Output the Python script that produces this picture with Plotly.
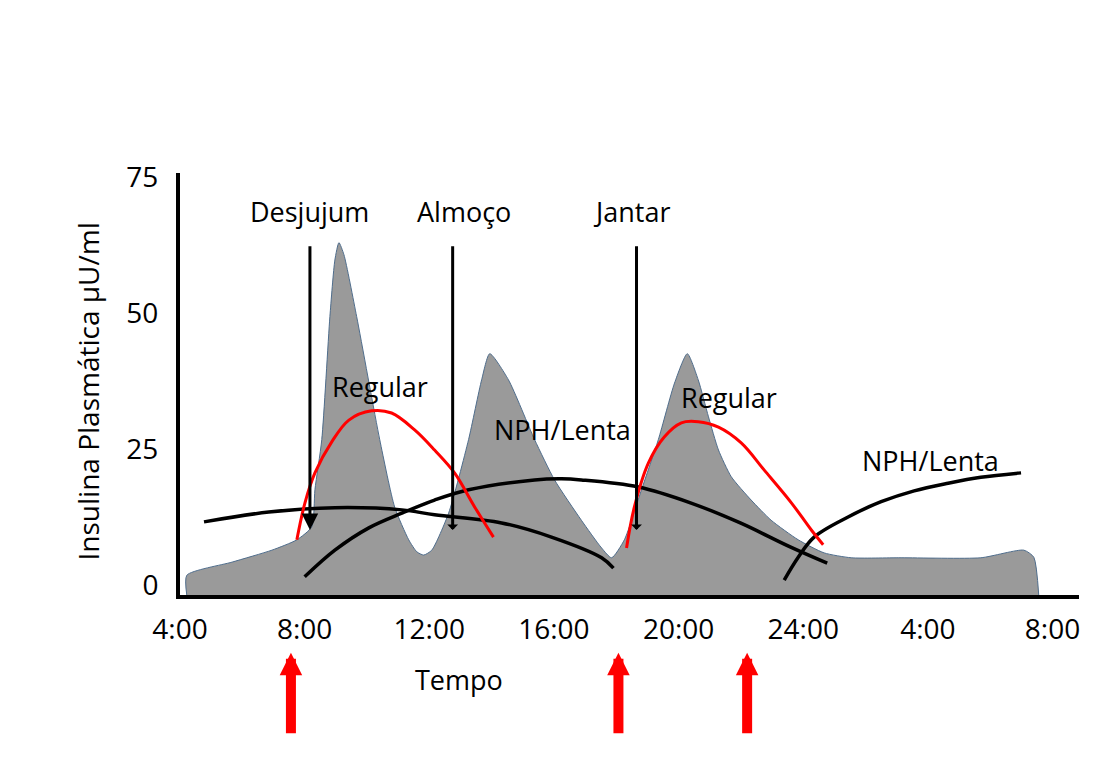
import plotly.graph_objects as go

# ---------------- data ----------------
# plasma insulin (physiological profile), hours since midnight (continuing past 24)
area_hours = [4.22, 4.22, 5.67, 6.95, 7.75, 8.23, 8.33, 8.55, 8.81, 8.97, 9.1, 9.26, 9.67,
              10.41, 10.89, 11.34, 11.6, 11.82, 12.08, 12.62, 13.26, 13.68, 13.94,
              14.54, 15.38, 16.02, 16.88, 17.53, 17.85, 18.26, 18.81, 19.35,
              19.87, 20.28, 20.63, 20.96, 21.28, 21.69, 22.33, 22.97, 23.84, 24.67, 25.54,
              27.14, 29.7, 31.08, 31.4, 31.56]
area_values = [-2.0, 1.8, 4.2, 6.4, 8.3, 10.7, 17.5, 26.7, 49.3, 59.7, 62.9, 60.7, 49.3,
               26.7, 14.3, 8.3, 6.1, 5.5, 6.4, 13.2, 26.7, 37.7, 42.5,
               37.7, 26.7, 19.3, 11.9, 6.8, 5.0, 8.3, 17.5, 26.7,
               37.1, 42.5, 37.7, 30.9, 24.8, 19.9, 15.6, 11.9, 8.3, 5.9, 5.0,
               5.0, 5.0, 6.4, 5.1, -2.0]

# Regular insulin curves
regular1_hours = [7.75, 8.01, 8.33, 8.87, 9.42, 10.15, 10.79, 11.53, 12.17, 12.81, 13.46, 14.06]
regular1_values = [8.3, 15.1, 20.6, 26.3, 30.3, 32.0, 31.6, 28.5, 24.8, 20.6, 14.3, 8.8]
regular2_hours = [18.33, 18.58, 19.03, 19.54, 20.09, 20.63, 21.28, 22.01, 22.75, 23.62, 24.26, 24.64]
regular2_values = [6.8, 14.3, 22.4, 27.2, 29.8, 30.0, 29.0, 26.1, 21.1, 15.1, 10.1, 7.4]

# NPH/Lenta curves
nph_a_hours = [4.77, 6.85, 8.97, 11.12, 12.17, 14.32, 15.92, 17.53, 17.91]
nph_a_values = [11.6, 13.4, 14.2, 13.8, 12.9, 11.4, 8.8, 5.0, 3.1]
nph_b_hours = [8.0, 8.97, 10.06, 11.12, 12.17, 13.26, 15.38, 16.24, 16.88, 18.71, 20.38, 21.98, 23.58, 24.77]
nph_b_values = [1.5, 6.4, 10.5, 13.2, 15.6, 17.5, 19.3, 19.5, 19.3, 18.0, 15.1, 11.4, 7.0, 4.0]
nph_c_hours = [23.39, 23.84, 24.35, 25.44, 26.5, 27.56, 28.65, 29.7, 30.99]
nph_c_values = [0.9, 5.1, 8.8, 12.5, 15.3, 17.3, 18.7, 19.8, 20.6]

# meals
meal_labels = ["Desjujum", "Almoço", "Jantar"]
meal_hours = [8.17, 12.75, 18.65]
meal_label_hours = [8.17, 13.1, 18.49]
meal_top = 62.5
meal_bottom = 10.1
meal_label_level = 68.7

# injection times (red arrows below the axis)
injection_hours = [7.56, 18.07, 22.2]

# curve labels
curve_labels = ["Regular", "Regular", "NPH/Lenta", "NPH/Lenta"]
curve_label_hours = [10.41, 21.63, 16.28, 28.1]
curve_label_values = [36.4, 34.4, 28.5, 22.8]

# axes
tick_hours = [4, 8, 12, 16, 20, 24, 28, 32]
tick_labels = ["4:00", "8:00", "12:00", "16:00", "20:00", "24:00", "4:00", "8:00"]
y_ticks = [0, 25, 50, 75]
X_RANGE = [4.0, 32.85]
Y_RANGE = [-1.84, 75.7]

FONT = "Open Sans"
FS = 28
FS_LAB = 27

fig = go.Figure()

fig.add_trace(go.Scatter(
    x=area_hours, y=area_values, mode="lines", fill="toself",
    fillcolor="#9a9a9a", line=dict(color="#4f6d8c", width=1, shape="spline", smoothing=0.6),
    hoverinfo="skip", showlegend=False))

for hx, vy in [(nph_a_hours, nph_a_values), (nph_b_hours, nph_b_values),
               (nph_c_hours, nph_c_values)]:
    fig.add_trace(go.Scatter(x=hx, y=vy, mode="lines",
                             line=dict(color="black", width=3.5, shape="spline"),
                             showlegend=False, hoverinfo="skip"))

for hx, vy in [(regular1_hours, regular1_values), (regular2_hours, regular2_values)]:
    fig.add_trace(go.Scatter(x=hx, y=vy, mode="lines",
                             line=dict(color="#ff0000", width=3, shape="spline"),
                             showlegend=False, hoverinfo="skip"))

annotations = []
# meal arrows
for i, (lab, h, lh) in enumerate(zip(meal_labels, meal_hours, meal_label_hours)):
    annotations.append(dict(
        x=h, y=meal_bottom, xref="x", yref="y", ax=h, ay=meal_top, axref="x", ayref="y",
        showarrow=True, arrowcolor="black", arrowwidth=3,
        arrowhead=2 if i == 0 else 1, arrowsize=1.1 if i == 0 else 0.6, text=""))
    annotations.append(dict(x=lh, y=meal_label_level, xref="x", yref="y", text=lab,
                            xanchor="center", yanchor="middle", showarrow=False,
                            font=dict(family=FONT, size=FS_LAB, color="black")))

for lab, h, v in zip(curve_labels, curve_label_hours, curve_label_values):
    annotations.append(dict(x=h, y=v, xref="x", yref="y", text=lab, showarrow=False,
                            xanchor="center", yanchor="middle",
                            font=dict(family=FONT, size=FS_LAB, color="black")))

# injection arrows below the axis
for h in injection_hours:
    annotations.append(dict(x=h, y=-0.137, xref="x", yref="paper", ax=0, ay=82,
                            axref="pixel", ayref="pixel", text="", showarrow=True,
                            arrowcolor="#ff0000", arrowwidth=10, arrowhead=2, arrowsize=0.45))

# axis titles
annotations.append(dict(x=12.94, y=-0.201, xref="x", yref="paper", text="Tempo",
                        xanchor="center", yanchor="middle", showarrow=False,
                        font=dict(family=FONT, size=FS_LAB, color="black")))
annotations.append(dict(x=-0.102, y=0.483, xref="paper", yref="paper",
                        xanchor="center", yanchor="middle",
                        text="Insulina Plasmática µU/ml", textangle=-90, showarrow=False,
                        font=dict(family=FONT, size=FS, color="black")))

fig.update_layout(
    width=1118, height=776,
    margin=dict(l=172, r=47, t=165, b=189, pad=0),
    plot_bgcolor="white", paper_bgcolor="white",
    showlegend=False,
    annotations=annotations,
    xaxis=dict(range=X_RANGE, tickvals=tick_hours, ticktext=tick_labels,
               showgrid=False, zeroline=False, showline=True, linecolor="black",
               linewidth=4, ticks="", ticklabelstandoff=6,
               tickfont=dict(family=FONT, size=FS, color="black")),
    yaxis=dict(range=Y_RANGE, tickvals=y_ticks, showgrid=False, zeroline=False,
               showline=True, linecolor="black", linewidth=4, ticks="",
               ticklabelstandoff=12,
               tickfont=dict(family=FONT, size=FS, color="black")),
)

fig.write_html("out.html")
